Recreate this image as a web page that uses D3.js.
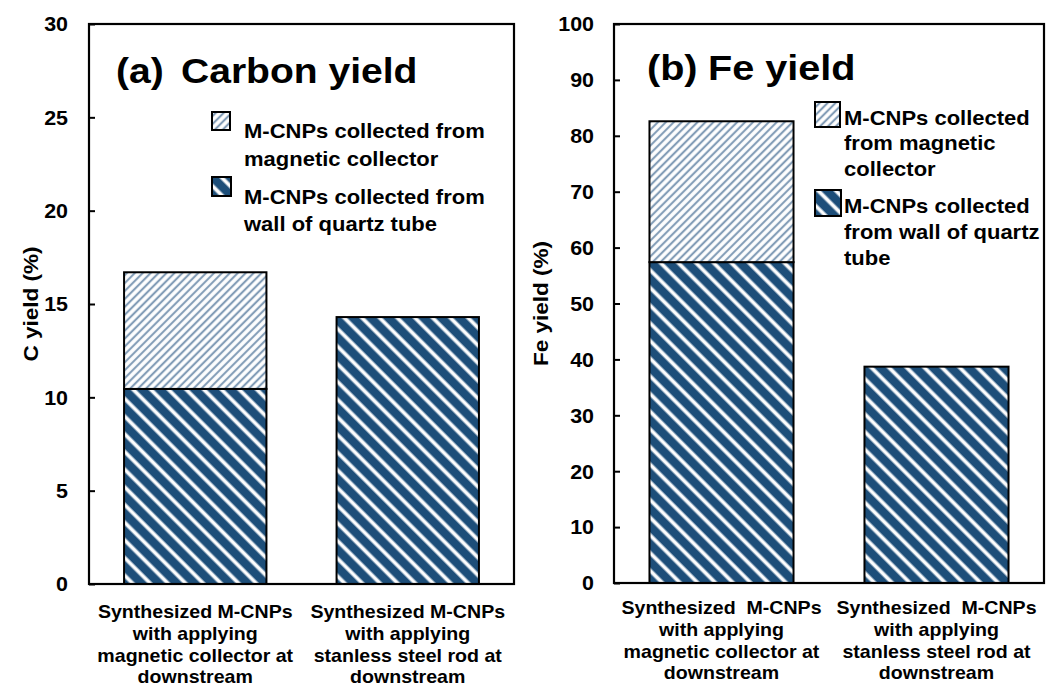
<!DOCTYPE html>
<html>
<head>
<meta charset="utf-8">
<script src="https://cdn.jsdelivr.net/npm/d3@7"></script>
<style>
  html, body { margin: 0; padding: 0; background: #fff; }
  svg { display: block; font-family: "Liberation Sans", Arial, sans-serif; font-weight: bold; }
  text { white-space: pre; fill: #000; }
</style>
</head>
<body>
<svg id="chart" width="1046" height="687"></svg>
<script>
// Category labels (one line per entry)
const categoryLinesC = [
  ["Synthesized M-CNPs", "with applying", "magnetic collector at", "downstream"],
  ["Synthesized M-CNPs", "with applying", "stanless steel rod at", "downstream"]
];
const categoryLinesFe = [
  ["Synthesized  M-CNPs", "with applying", "magnetic collector at", "downstream"],
  ["Synthesized  M-CNPs", "with applying", "stanless steel rod at", "downstream"]
];

// Carbon yield (%) – stacked: wall of quartz tube (bottom), magnetic collector (top)
const carbonWall = [10.45, 14.3];
const carbonMagnetic = [6.25, 0];

// Fe yield (%)
const feWall = [57.4, 38.7];
const feMagnetic = [25.2, 0];

// Axis ticks
const carbonTicks = [0, 5, 10, 15, 20, 25, 30];
const feTicks = [0, 10, 20, 30, 40, 50, 60, 70, 80, 90, 100];

// Legend texts
const legendC = [
  ["M-CNPs collected from", "magnetic collector"],
  ["M-CNPs collected from", "wall of quartz tube"]
];
const legendFe = [
  ["M-CNPs collected", "from magnetic", "collector"],
  ["M-CNPs collected", "from wall of quartz", "tube"]
];

const svg = d3.select("#chart");
const DARK = "#1d4e79";
const SX = 1.1; // horizontal widening of the bold face

// Hatch patterns with soft-edged stripes
const defs = svg.append("defs");
function hatch(id, size, angle, bg, stripe, stops) {
  const g = defs.append("linearGradient").attr("id", id + "-g")
    .attr("x1", 0).attr("x2", 1).attr("y1", 0).attr("y2", 0);
  stops.forEach(([o, isStripe]) =>
    g.append("stop").attr("offset", o).attr("stop-color", isStripe ? stripe : bg));
  defs.append("pattern").attr("id", id)
    .attr("patternUnits", "userSpaceOnUse")
    .attr("width", size).attr("height", size)
    .attr("patternTransform", `rotate(${angle})`)
    .append("rect").attr("width", size).attr("height", size)
    .attr("fill", `url(#${id}-g)`);
}
// wall of quartz tube: dark blue with white "\" stripes
hatch("wallHatch", 12.5, -45, DARK, "#ffffff",
  [[0, 0], [0.27, 0], [0.43, 1], [0.57, 1], [0.73, 0], [1, 0]]);
// magnetic collector: white with thin blue "/" stripes
hatch("magHatch", 5.6, 45, "#ffffff", "#4f7499",
  [[0, 0], [0.22, 0], [0.5, 1], [0.78, 0], [1, 0]]);

// text widened horizontally about its anchor point
function wideText(parent, x, y, size, anchor) {
  return parent.append("text")
    .attr("transform", `translate(${x},${y}) scale(${SX},1)`)
    .attr("text-anchor", anchor || "start")
    .attr("font-size", size);
}

function panel(cfg) {
  const g = svg.append("g");
  const x = d3.scaleBand().domain(d3.range(cfg.wall.length))
    .range([cfg.x0, cfg.x1]).paddingInner(0.33).paddingOuter(0.165);
  const y = d3.scaleLinear().domain([0, cfg.max]).range([cfg.y1, cfg.y0]);

  // stacked bars
  cfg.wall.forEach((w, i) => {
    const m = cfg.mag[i];
    g.append("rect")
      .attr("x", x(i)).attr("width", x.bandwidth())
      .attr("y", y(w)).attr("height", y(0) - y(w))
      .attr("fill", "url(#wallHatch)").attr("stroke", "#000").attr("stroke-width", 2);
    if (m > 0) {
      g.append("rect")
        .attr("x", x(i)).attr("width", x.bandwidth())
        .attr("y", y(w + m)).attr("height", y(w) - y(w + m))
        .attr("fill", "url(#magHatch)").attr("stroke", "#000").attr("stroke-width", 2);
    }
  });

  // frame
  g.append("rect").attr("x", cfg.x0).attr("y", cfg.y0)
    .attr("width", cfg.x1 - cfg.x0).attr("height", cfg.y1 - cfg.y0)
    .attr("fill", "none").attr("stroke", "#000").attr("stroke-width", 2.2);

  // y axis with inward ticks
  const ax = g.append("g").attr("transform", `translate(${cfg.x0},0)`)
    .call(d3.axisRight(y).tickValues(cfg.ticks).tickSize(6).tickFormat(d3.format("d")));
  ax.select(".domain").remove();
  ax.selectAll(".tick line").attr("stroke", "#000").attr("stroke-width", 2);
  ax.selectAll(".tick text")
    .attr("x", 0).attr("dy", "0.35em")
    .attr("transform", `translate(${-cfg.labelGap},0) scale(${SX},1)`)
    .attr("text-anchor", "end")
    .attr("font-size", 19.5).attr("font-family", "Liberation Sans, Arial, sans-serif")
    .attr("font-weight", "bold").attr("fill", "#000");

  // y axis title
  g.append("text")
    .attr("transform", `translate(${cfg.yTitleX},${(cfg.y0 + cfg.y1) / 2}) rotate(-90) scale(${SX},1)`)
    .attr("text-anchor", "middle").attr("dy", "0.35em")
    .attr("font-size", 20.5).text(cfg.yTitle);

  // category labels
  cfg.cats.forEach((lines, i) => {
    const t = wideText(g, x(i) + x.bandwidth() / 2, cfg.catY, 17.8, "middle");
    lines.forEach((s, k) => {
      t.append("tspan").attr("x", 0).attr("y", k * 21.8).text(s);
    });
  });

  // panel title
  cfg.title.forEach(tt => {
    wideText(g, tt.x, tt.y, tt.size).text(tt.text);
  });

  // legend
  cfg.legend.forEach((lines, i) => {
    const L = cfg.leg[i];
    g.append("rect").attr("x", L.bx).attr("y", L.by)
      .attr("width", L.bs).attr("height", L.bs)
      .attr("fill", i === 0 ? "url(#magHatch)" : "url(#wallHatch)")
      .attr("stroke", "#000").attr("stroke-width", 2);
    const t = wideText(g, L.tx, L.ty, cfg.legSize);
    lines.forEach((s, k) => {
      t.append("tspan").attr("x", 0).attr("y", k * L.dy).text(s);
    });
  });
}

panel({
  x0: 89, x1: 514, y0: 24, y1: 584, max: 30,
  wall: carbonWall, mag: carbonMagnetic, ticks: carbonTicks,
  labelGap: 21, yTitle: "C yield (%)", yTitleX: 31,
  cats: categoryLinesC, catY: 618,
  title: [{ text: "(a)", x: 116, y: 83, size: 35.5 }, { text: "Carbon yield", x: 181, y: 83, size: 35.5 }],
  legend: legendC, legSize: 20,
  leg: [
    { bx: 212, by: 112, bs: 18, tx: 244, ty: 138, dy: 28 },
    { bx: 212, by: 177, bs: 19, tx: 244, ty: 204, dy: 27 }
  ]
});

panel({
  x0: 614, x1: 1044, y0: 24, y1: 583, max: 100,
  wall: feWall, mag: feMagnetic, ticks: feTicks,
  labelGap: 20, yTitle: "Fe yield (%)", yTitleX: 541,
  cats: categoryLinesFe, catY: 614,
  title: [{ text: "(b)", x: 647, y: 80, size: 36 }, { text: "Fe yield", x: 708, y: 80, size: 36 }],
  legend: legendFe, legSize: 20,
  leg: [
    { bx: 815, by: 102, bs: 25, tx: 844, ty: 125, dy: 25.5 },
    { bx: 815, by: 190, bs: 26, tx: 844, ty: 213, dy: 26 }
  ]
});
</script>
</body>
</html>
